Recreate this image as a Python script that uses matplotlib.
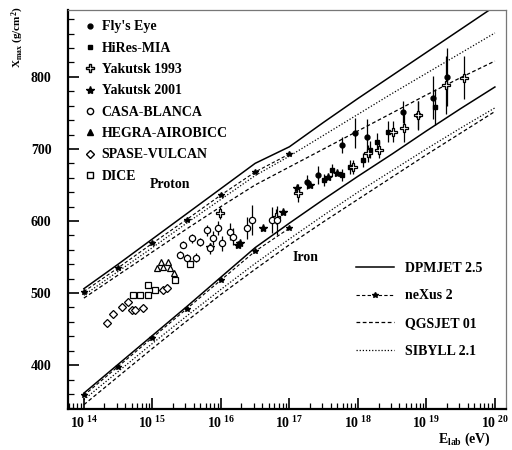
import numpy as np
import matplotlib
matplotlib.use("Agg")
import matplotlib.pyplot as plt
from matplotlib.lines import Line2D
from matplotlib.ticker import FixedLocator, FixedFormatter, LogLocator, NullFormatter, MultipleLocator

plt.rcParams['font.family'] = ['Liberation Serif', 'DejaVu Serif']
plt.rcParams['font.weight'] = 'bold'
plt.rcParams['mathtext.fontset'] = 'custom'
plt.rcParams['mathtext.rm'] = 'Liberation Serif:bold'
plt.rcParams['mathtext.bf'] = 'Liberation Serif:bold'
plt.rcParams['mathtext.it'] = 'Liberation Serif:bold'

# model curves, log10(E/eV) knots
lgE_model = [14, 14.5, 15, 15.5, 16, 16.5, 17, 17.5, 18, 18.5, 19, 19.5, 20]
lgE_nexus = [14, 14.5, 15, 15.5, 16, 16.5, 17]

dpmjet_p = [506, 540, 575, 610, 645, 680, 703, 737, 770, 802, 834, 866, 898]
sibyll_p = [497, 530, 563, 597, 630, 663, 690, 719, 748, 777, 805, 833, 861]
qgsjet_p = [493, 525, 557, 589, 620, 650, 675, 700, 725, 750, 775, 799, 822]
nexus_p = [502, 535, 569, 602, 636, 668, 693]

dpmjet_fe = [361, 401, 441, 481, 522, 563, 597, 630, 662, 693, 725, 756, 786]
sibyll_fe = [352, 391, 430, 468, 505, 541, 575, 608, 640, 670, 700, 729, 757]
qgsjet_fe = [345, 384, 423, 461, 498, 533, 567, 599, 630, 661, 692, 722, 752]
nexus_fe = [358, 398, 438, 478, 518, 558, 590]

# measurements: log10(E/eV), Xmax, error
fly_lgE = [17.26, 17.42, 17.77, 17.96, 18.13, 18.66, 18.88, 19.10, 19.30]
fly_X = [654, 664, 706, 722, 717, 751, 747, 771, 800]
fly_err = [10, 12, 11, 21, 25, 15, 19, 30, 40]

hires_lgE = [17.50, 17.62, 17.77, 17.88, 18.07, 18.18, 18.28, 18.44, 19.12]
hires_X = [657, 671, 664, 675, 685, 699, 710, 724, 758]
hires_err = [8, 8, 8, 10, 10, 12, 12, 15, 25]

yak93_lgE = [15.99, 16.81, 17.13, 17.93, 18.15, 18.31, 18.51, 18.67, 18.88, 19.29, 19.55]
yak93_X = [611, 606, 639, 675, 694, 699, 724, 729, 747, 789, 799]
yak93_err = [8, 10, 12, 10, 12, 12, 15, 20, 20, 40, 30]

yak01_lgE = [15.84, 16.25, 16.28, 16.62, 16.91, 17.11, 17.30, 17.57, 17.70]
yak01_X = [564, 567, 569, 590, 612, 646, 650, 661, 667]

casa_lgE = [15.41, 15.45, 15.51, 15.58, 15.63, 15.70, 15.80, 15.84, 15.89, 15.96,
            16.02, 16.14, 16.18, 16.38, 16.46, 16.75, 16.82]
casa_X = [553, 567, 549, 576, 549, 571, 587, 562, 576, 590,
          569, 585, 578, 590, 601, 601, 601]
casa_err = [5, 5, 5, 6, 6, 6, 8, 8, 10, 10, 10, 12, 12, 15, 21, 18, 20]

hegra_lgE = [15.07, 15.12, 15.16, 15.23, 15.26, 15.31]
hegra_X = [535, 543, 536, 543, 535, 528]

spase_lgE = [14.34, 14.43, 14.56, 14.65, 14.71, 14.75, 14.87, 15.16, 15.22]
spase_X = [458, 471, 481, 488, 476, 476, 479, 504, 507]

dice_lgE = [14.72, 14.82, 14.93, 14.94, 15.04, 15.33, 15.55]
dice_X = [497, 497, 497, 511, 504, 518, 540]


def E(lg):
    return 10 ** np.asarray(lg, dtype=float)


fig = plt.figure(figsize=(5.12, 4.5), dpi=100)
ax = fig.add_axes([0.133, 0.091, 0.855, 0.887])

dot = (0, (1, 1.5))
dash = (0, (3, 2))
ax.plot(E(lgE_model), dpmjet_p, '-', color='k', lw=1.1)
ax.plot(E(lgE_model), dpmjet_fe, '-', color='k', lw=1.1)
ax.plot(E(lgE_model), sibyll_p, color='k', lw=0.9, ls=dot)
ax.plot(E(lgE_model), sibyll_fe, color='k', lw=0.9, ls=dot)
ax.plot(E(lgE_model), qgsjet_p, color='k', lw=0.9, ls=dash)
ax.plot(E(lgE_model), qgsjet_fe, color='k', lw=0.9, ls=dash)
ax.plot(E(lgE_nexus), nexus_p, color='k', lw=0.8, ls=dash, marker='*', ms=4)
ax.plot(E(lgE_nexus), nexus_fe, color='k', lw=0.8, ls=dash, marker='*', ms=4)

eb = dict(color='k', elinewidth=0.9, capsize=0, ls='none')
ax.errorbar(E(fly_lgE), fly_X, yerr=fly_err, fmt='o', ms=3.5, mfc='k', mec='k', **eb)
ax.errorbar(E(hires_lgE), hires_X, yerr=hires_err, fmt='s', ms=3.5, mfc='k', mec='k', **eb)
ax.errorbar(E(yak93_lgE), yak93_X, yerr=yak93_err, fmt='P', ms=6, mfc='white', mec='k', mew=0.9, **eb)
ax.plot(E(yak01_lgE), yak01_X, '*', ms=6, color='k', ls='none')
ax.errorbar(E(casa_lgE), casa_X, yerr=casa_err, fmt='o', ms=4.5, mfc='white', mec='k', mew=0.9, **eb)
ax.plot(E(hegra_lgE), hegra_X, '^', ms=4.5, mfc='white', mec='k', mew=0.9, ls='none')
ax.plot(E(spase_lgE), spase_X, 'D', ms=4, mfc='white', mec='k', mew=0.9, ls='none')
ax.plot(E(dice_lgE), dice_X, 's', ms=4.5, mfc='white', mec='k', mew=0.9, ls='none')

ax.set_xscale('log')
ax.set_xlim(10 ** 13.77, 10 ** 20.16)
ax.set_ylim(339, 893)

xt = [1e14, 1e15, 1e16, 1e17, 1e18, 1e19, 1e20]
ax.xaxis.set_major_locator(FixedLocator(xt))
ax.xaxis.set_major_formatter(FixedFormatter([r'$10^{\ %d}$' % k for k in range(14, 21)]))
ax.xaxis.set_minor_locator(LogLocator(base=10, subs=np.arange(2, 10), numticks=20))
ax.xaxis.set_minor_formatter(NullFormatter())
ax.yaxis.set_major_locator(MultipleLocator(100))
ax.yaxis.set_minor_locator(MultipleLocator(20))

ax.tick_params(which='both', direction='in', top=False, right=False)
ax.tick_params(which='major', length=8, width=1.2, labelsize=10)
ax.tick_params(which='minor', length=4, width=0.9)
ax.tick_params(axis='x', pad=4)
ax.tick_params(axis='y', pad=12)
for s in ['left', 'bottom']:
    ax.spines[s].set_linewidth(1.6)
for s in ['top', 'right']:
    ax.spines[s].set_linewidth(0.9)
    ax.spines[s].set_color('#777777')

ax.text(10 ** 15.26, 650, 'Proton', fontsize=10, ha='center', va='center')
ax.text(10 ** 17.23, 549, 'Iron', fontsize=10, ha='center', va='center')

h1 = [
    Line2D([], [], marker='o', ms=3.5, color='k', ls='none'),
    Line2D([], [], marker='s', ms=3.5, color='k', ls='none'),
    Line2D([], [], marker='P', ms=6, mfc='white', mec='k', ls='none'),
    Line2D([], [], marker='*', ms=6, color='k', ls='none'),
    Line2D([], [], marker='o', ms=4.5, mfc='white', mec='k', ls='none'),
    Line2D([], [], marker='^', ms=4.5, color='k', ls='none'),
    Line2D([], [], marker='D', ms=4, mfc='white', mec='k', ls='none'),
    Line2D([], [], marker='s', ms=4.5, mfc='white', mec='k', ls='none'),
]
l1 = ["Fly's Eye", 'HiRes-MIA', 'Yakutsk 1993', 'Yakutsk 2001', 'CASA-BLANCA',
      'HEGRA-AIROBICC', 'SPASE-VULCAN', 'DICE']
leg1 = ax.legend(h1, l1, loc='upper left', bbox_to_anchor=(0.015, 0.998), frameon=False,
                 fontsize=10, handlelength=0.8, handletextpad=0.45, labelspacing=0.6,
                 borderaxespad=0.3)
ax.add_artist(leg1)

h2 = [
    Line2D([], [], color='k', lw=1.1),
    Line2D([], [], color='k', lw=0.8, ls=dash, marker='*', ms=4, markevery=[1, 2]),
    Line2D([], [], color='k', lw=0.9, ls=dash),
    Line2D([], [], color='k', lw=0.9, ls=dot),
]
l2 = ['DPMJET 2.5', 'neXus 2', 'QGSJET 01', 'SIBYLL 2.1']
ax.legend(h2, l2, loc='upper left', bbox_to_anchor=(0.63, 0.4), frameon=False,
          fontsize=10, handlelength=2.7, handletextpad=0.8, labelspacing=1.05)

fig.text(0.035, 0.985, r'X$_{max}$ (g/cm$^2$)', rotation=90, ha='center', va='top', fontsize=8)
fig.text(0.855, 0.005, r'E$_{lab}$ (eV)', ha='left', va='bottom', fontsize=10)

fig.savefig('out.png', dpi=100)
